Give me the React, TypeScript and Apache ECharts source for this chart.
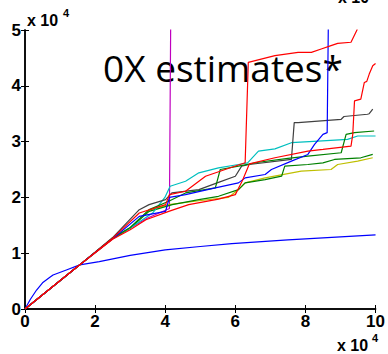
import React, { useEffect, useRef } from "react";
import * as echarts from "echarts";

const xTicks = [0, 2, 4, 6, 8, 10];
const yTicks = [0, 1, 2, 3, 4, 5];

const blueLog: [number, number][] = [[0, 0], [0.15, 0.17], [0.33, 0.34], [0.5, 0.47], [0.71, 0.57], [0.8, 0.61], [1.18, 0.7], [1.56, 0.79], [2.12, 0.85], [3.0, 0.96], [4.0, 1.06], [5.0, 1.12], [5.9, 1.17], [7.5, 1.24], [10, 1.33]];
const magenta: [number, number][] = [[0, 0], [1.5, 0.76], [2.5, 1.27], [3.0, 1.45], [3.5, 1.63], [4.12, 1.8], [4.16, 5.5]];
const gray: [number, number][] = [[0, 0], [1.5, 0.76], [2.5, 1.28], [3.26, 1.78], [3.54, 1.87], [4.01, 1.96], [4.19, 2.08], [4.96, 2.14], [5.52, 2.27], [6.0, 2.38], [6.18, 2.56], [6.4, 2.59], [7.6, 2.68], [7.68, 3.34], [7.79, 3.34], [9.02, 3.4], [9.1, 3.45], [9.77, 3.49], [9.82, 3.5], [9.92, 3.58]];
const cyan: [number, number][] = [[0, 0], [1.5, 0.76], [2.5, 1.27], [3.0, 1.45], [3.64, 1.72], [3.99, 2.0], [4.14, 2.2], [4.58, 2.29], [4.96, 2.44], [5.52, 2.53], [6.09, 2.59], [6.35, 2.62], [6.66, 2.83], [7.13, 2.87], [7.6, 2.98], [8.36, 3.01], [9.2, 3.04], [9.49, 3.1], [10, 3.1]];
const blueStep: [number, number][] = [[0, 0], [1.5, 0.76], [2.5, 1.26], [3.26, 1.66], [4.01, 1.75], [4.12, 2.0], [4.58, 2.05], [5.43, 2.17], [6.09, 2.26], [6.28, 2.35], [6.85, 2.41], [7.03, 2.5], [7.6, 2.65], [8.07, 2.77], [8.26, 2.95], [8.5, 3.13], [8.62, 3.16], [8.66, 5.5]];
const greenUpper: [number, number][] = [[0, 0], [1.5, 0.76], [2.5, 1.27], [3.0, 1.46], [3.54, 1.78], [4.1, 1.93], [4.58, 2.08], [5.43, 2.17], [5.57, 2.5], [6.09, 2.56], [6.66, 2.63], [7.5, 2.7], [8.07, 2.74], [9.02, 2.8], [9.16, 3.13], [9.4, 3.16], [9.96, 3.19]];
const greenLower: [number, number][] = [[0, 0], [1.5, 0.76], [2.5, 1.26], [3.0, 1.45], [3.54, 1.75], [4.2, 1.87], [4.96, 1.96], [5.52, 2.02], [6.09, 2.14], [6.28, 2.26], [6.85, 2.32], [7.32, 2.38], [7.41, 2.56], [8.07, 2.59], [8.5, 2.62], [8.83, 2.68], [9.58, 2.71], [9.92, 2.77]];
const yellow: [number, number][] = [[0, 0], [1.5, 0.76], [2.5, 1.26], [3.0, 1.45], [3.54, 1.77], [4.1, 1.87], [4.96, 1.94], [5.8, 2.0], [6.09, 2.14], [6.28, 2.26], [6.85, 2.35], [7.88, 2.47], [8.73, 2.5], [8.92, 2.59], [9.49, 2.65], [9.92, 2.71]];
const redJump: [number, number][] = [[0, 0], [1.5, 0.76], [2.5, 1.27], [3.26, 1.72], [4.01, 1.87], [4.12, 2.05], [4.58, 2.11], [5.15, 2.38], [5.71, 2.5], [6.28, 2.62], [6.37, 4.42], [7.13, 4.54], [7.79, 4.6], [8.17, 4.6], [8.45, 4.66], [8.73, 4.72], [8.92, 4.76], [9.3, 4.78], [9.47, 5.0], [9.55, 5.3]];
const redLate: [number, number][] = [[0, 0], [1.5, 0.76], [2.5, 1.25], [3.0, 1.42], [3.45, 1.6], [4.1, 1.75], [4.67, 1.87], [5.52, 1.97], [6.0, 2.05], [6.2, 2.3], [6.4, 2.6], [7.13, 2.71], [8.07, 2.83], [8.5, 2.86], [9.3, 2.92], [9.35, 3.13], [9.4, 3.73], [9.58, 3.76], [9.68, 4.06], [9.75, 4.08], [9.82, 4.21], [9.92, 4.36], [10, 4.4]];

const seriesList: { data: [number, number][]; color: string }[] = [
  { data: blueLog, color: "#0000ff" },
  { data: magenta, color: "#bf00bf" },
  { data: yellow, color: "#bfbf00" },
  { data: greenLower, color: "#008000" },
  { data: cyan, color: "#00bfbf" },
  { data: gray, color: "#404040" },
  { data: greenUpper, color: "#008000" },
  { data: blueStep, color: "#0000ff" },
  { data: redLate, color: "#ff0000" },
  { data: redJump, color: "#ff0000" },
];

const FONT = "'Liberation Sans', Arial, sans-serif";

export default function App() {
  const ref = useRef<HTMLDivElement>(null);
  useEffect(() => {
    document.body.style.margin = "0";
    const chart = echarts.init(ref.current!, null, { renderer: "svg" });
    const tickLabel = { fontFamily: FONT, fontWeight: "bold" as const, fontSize: 17, color: "#000" };
    const axisCommon = {
      type: "value" as const,
      axisLine: { show: true, lineStyle: { color: "#000", width: 1.5 } },
      axisTick: { show: true, inside: true, length: 4, lineStyle: { color: "#000", width: 1 } },
      splitLine: { show: false },
    };
    chart.setOption({
      animation: false,
      backgroundColor: "#fff",
      grid: { left: 25, right: 10, top: 30, bottom: 45, containLabel: false },
      xAxis: [
        { ...axisCommon, min: xTicks[0], max: xTicks[xTicks.length - 1], interval: 2, position: "bottom",
          axisLabel: { ...tickLabel, margin: 4, showMaxLabel: true, showMinLabel: true } },
        { ...axisCommon, min: xTicks[0], max: xTicks[xTicks.length - 1], interval: 2, position: "top",
          axisLabel: { show: false } },
      ],
      yAxis: [
        { ...axisCommon, min: yTicks[0], max: yTicks[yTicks.length - 1], interval: 1, position: "left",
          axisLabel: { ...tickLabel, margin: 4 } },
        { ...axisCommon, min: yTicks[0], max: yTicks[yTicks.length - 1], interval: 1, position: "right",
          axisLabel: { show: false } },
      ],
      series: seriesList.map((s) => ({
        type: "line",
        data: s.data,
        xAxisIndex: 0,
        yAxisIndex: 0,
        showSymbol: false,
        symbol: "none",
        clip: true,
        lineStyle: { color: s.color, width: 1.2 },
        itemStyle: { color: s.color },
      })),
      graphic: [
        { type: "text", x: 27, y: 12, style: { text: "x 10", font: `bold 16px ${FONT}`, fill: "#000" } },
        { type: "text", x: 63, y: 7, style: { text: "4", font: `bold 11px ${FONT}`, fill: "#000" } },
        { type: "text", x: 338, y: -11, style: { text: "x 10", font: `bold 16px ${FONT}`, fill: "#000" } },
        { type: "text", x: 337, y: 337, style: { text: "x 10", font: `bold 16px ${FONT}`, fill: "#000" } },
        { type: "text", x: 372, y: 332, style: { text: "4", font: `bold 11px ${FONT}`, fill: "#000" } },
        { type: "text", x: 103, y: 67, style: { text: "0X estimates*", font: `37px 'Open Sans', sans-serif`, fill: "#000", verticalAlign: "middle" } },
      ],
    });
    return () => chart.dispose();
  }, []);
  return <div ref={ref} style={{ width: 388, height: 354 }} />;
}
